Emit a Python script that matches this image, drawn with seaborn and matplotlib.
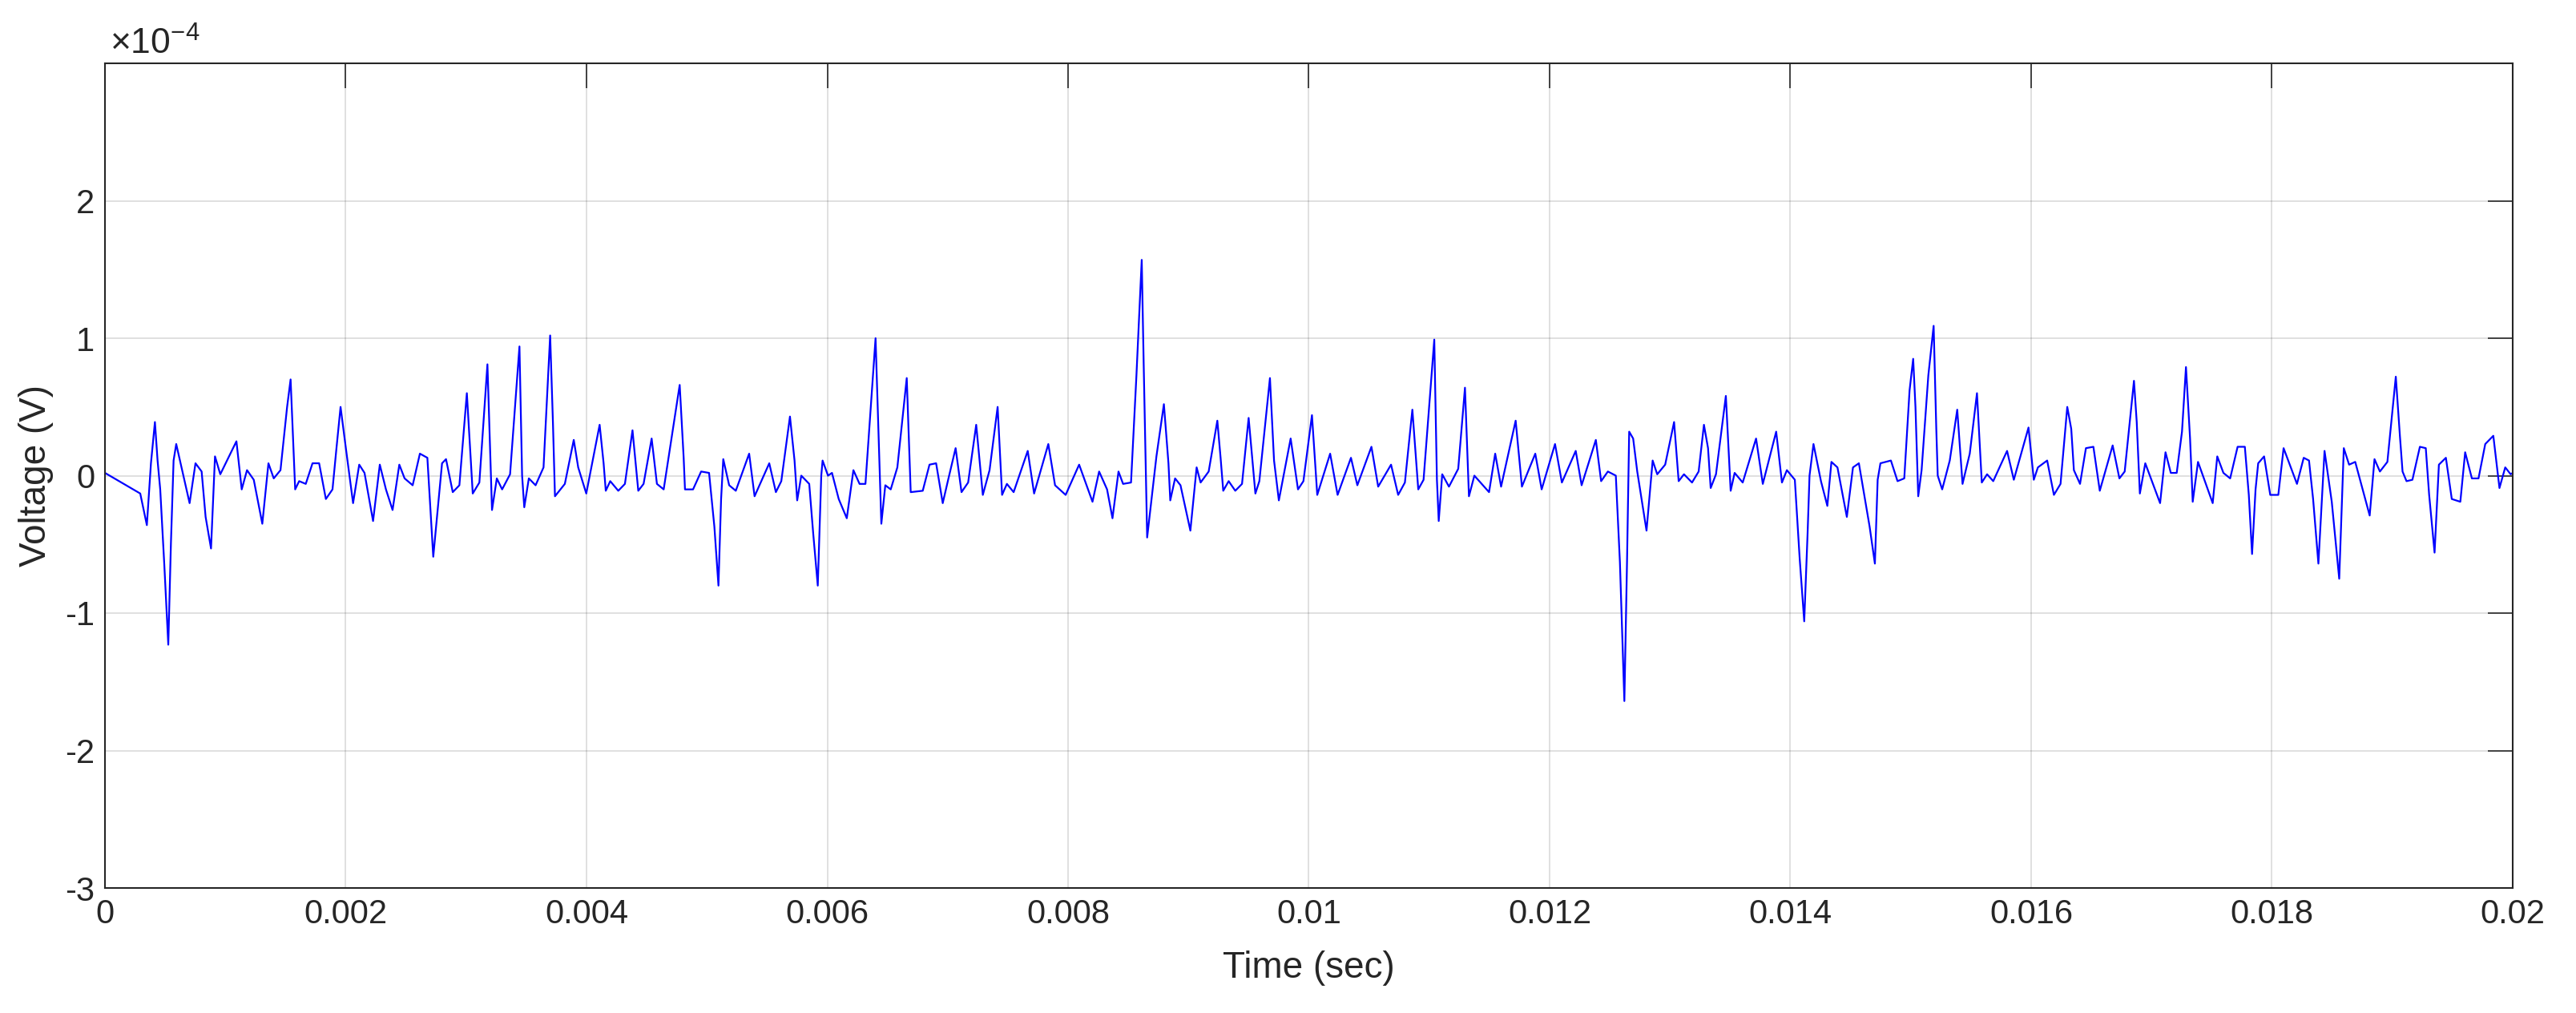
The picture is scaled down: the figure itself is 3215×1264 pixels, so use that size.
import numpy as np
import pandas as pd
import matplotlib
matplotlib.use("Agg")
import matplotlib.pyplot as plt
import seaborn as sns

# time in ms, voltage in units of 1e-4 V
time_ms = [
    0.000, 0.293, 0.348, 0.382, 0.415, 0.437, 0.459, 0.493, 0.526, 0.548,
    0.570, 0.592, 0.703, 0.752, 0.803, 0.836, 0.881, 0.914, 0.958, 1.092,
    1.136, 1.180, 1.236, 1.307, 1.358, 1.402, 1.458, 1.513, 1.542, 1.580,
    1.613, 1.668, 1.724, 1.779, 1.835, 1.890, 1.923, 1.957, 2.001, 2.061,
    2.112, 2.156, 2.227, 2.283, 2.334, 2.389, 2.445, 2.489, 2.556, 2.616,
    2.678, 2.727, 2.800, 2.833, 2.889, 2.944, 3.006, 3.055, 3.110, 3.177,
    3.215, 3.255, 3.299, 3.365, 3.443, 3.465, 3.483, 3.521, 3.577, 3.643,
    3.698, 3.721, 3.738, 3.820, 3.894, 3.931, 3.998, 4.109, 4.142, 4.160,
    4.197, 4.264, 4.319, 4.382, 4.430, 4.474, 4.541, 4.585, 4.641, 4.774,
    4.807, 4.818, 4.885, 4.952, 5.018, 5.062, 5.096, 5.118, 5.136, 5.185,
    5.240, 5.351, 5.396, 5.518, 5.573, 5.618, 5.690, 5.728, 5.750, 5.784,
    5.850, 5.883, 5.921, 5.950, 5.961, 6.006, 6.039, 6.095, 6.162, 6.217,
    6.268, 6.317, 6.401, 6.449, 6.482, 6.527, 6.582, 6.660, 6.693, 6.793,
    6.849, 6.904, 6.959, 7.004, 7.066, 7.115, 7.170, 7.237, 7.292, 7.348,
    7.415, 7.452, 7.492, 7.548, 7.665, 7.718, 7.836, 7.892, 7.980, 8.092,
    8.203, 8.258, 8.324, 8.369, 8.419, 8.457, 8.523, 8.568, 8.612, 8.628,
    8.657, 8.734, 8.796, 8.834, 8.849, 8.889, 8.934, 9.016, 9.068, 9.101,
    9.168, 9.240, 9.267, 9.289, 9.334, 9.389, 9.445, 9.500, 9.556, 9.589,
    9.677, 9.711, 9.751, 9.849, 9.910, 9.955, 10.026, 10.070, 10.177, 10.239,
    10.350, 10.403, 10.520, 10.576, 10.683, 10.742, 10.798, 10.860, 10.909, 10.953,
    11.042, 11.064, 11.079, 11.108, 11.164, 11.241, 11.297, 11.330, 11.375, 11.497,
    11.548, 11.597, 11.718, 11.770, 11.881, 11.934, 12.045, 12.102, 12.217, 12.266,
    12.384, 12.428, 12.484, 12.550, 12.584, 12.621, 12.643, 12.661, 12.694, 12.728,
    12.805, 12.856, 12.894, 12.960, 13.034, 13.072, 13.116, 13.183, 13.238, 13.282,
    13.316, 13.338, 13.382, 13.464, 13.487, 13.504, 13.537, 13.604, 13.715, 13.771,
    13.882, 13.930, 13.971, 14.037, 14.077, 14.115, 14.143, 14.159, 14.192, 14.254,
    14.307, 14.341, 14.391, 14.469, 14.520, 14.569, 14.658, 14.702, 14.725, 14.748,
    14.835, 14.890, 14.946, 14.990, 15.020, 15.039, 15.062, 15.090, 15.146, 15.190,
    15.212, 15.224, 15.261, 15.324, 15.386, 15.430, 15.490, 15.550, 15.590, 15.634,
    15.685, 15.800, 15.856, 15.978, 16.022, 16.056, 16.133, 16.189, 16.244, 16.300,
    16.333, 16.355, 16.406, 16.455, 16.517, 16.570, 16.677, 16.733, 16.777, 16.854,
    16.877, 16.903, 16.948, 17.071, 17.116, 17.160, 17.209, 17.253, 17.286, 17.320,
    17.342, 17.386, 17.508, 17.546, 17.597, 17.653, 17.715, 17.775, 17.808, 17.835,
    17.864, 17.886, 17.935, 17.986, 18.053, 18.097, 18.208, 18.264, 18.308, 18.342,
    18.386, 18.437, 18.497, 18.559, 18.597, 18.641, 18.692, 18.812, 18.852, 18.897,
    18.959, 19.029, 19.063, 19.085, 19.118, 19.167, 19.229, 19.278, 19.306, 19.351,
    19.387, 19.445, 19.494, 19.565, 19.605, 19.661, 19.716, 19.772, 19.839, 19.890,
    19.938, 19.983, 20.000,
]
volt_e4 = [
    0.02, -0.13, -0.36, 0.09, 0.39, 0.11, -0.10, -0.65, -1.23, -0.49,
    0.11, 0.23, -0.20, 0.09, 0.03, -0.30, -0.53, 0.14, 0.01, 0.25,
    -0.10, 0.04, -0.03, -0.35, 0.09, -0.02, 0.04, 0.50, 0.70, -0.10,
    -0.04, -0.06, 0.09, 0.09, -0.17, -0.10, 0.20, 0.50, 0.20, -0.20,
    0.08, 0.02, -0.33, 0.08, -0.10, -0.25, 0.08, -0.02, -0.07, 0.16,
    0.13, -0.59, 0.09, 0.12, -0.12, -0.07, 0.60, -0.13, -0.05, 0.81,
    -0.25, -0.02, -0.10, 0.01, 0.94, 0.00, -0.23, -0.02, -0.07, 0.06,
    1.02, 0.39, -0.15, -0.06, 0.26, 0.06, -0.13, 0.37, 0.09, -0.11,
    -0.04, -0.11, -0.06, 0.33, -0.11, -0.06, 0.27, -0.06, -0.10, 0.66,
    0.13, -0.10, -0.10, 0.03, 0.02, -0.37, -0.80, -0.17, 0.12, -0.07,
    -0.11, 0.16, -0.15, 0.09, -0.12, -0.04, 0.43, 0.11, -0.18, 0.00,
    -0.06, -0.42, -0.80, 0.00, 0.11, 0.00, 0.02, -0.17, -0.31, 0.04,
    -0.06, -0.06, 1.00, -0.35, -0.07, -0.10, 0.06, 0.71, -0.12, -0.11,
    0.08, 0.09, -0.20, -0.03, 0.20, -0.12, -0.05, 0.37, -0.14, 0.04,
    0.50, -0.14, -0.06, -0.12, 0.18, -0.13, 0.23, -0.07, -0.14, 0.08,
    -0.19, 0.03, -0.10, -0.31, 0.03, -0.06, -0.05, 0.73, 1.57, 0.82,
    -0.45, 0.14, 0.52, 0.09, -0.18, -0.02, -0.07, -0.40, 0.06, -0.05,
    0.03, 0.40, 0.13, -0.11, -0.04, -0.11, -0.06, 0.42, -0.13, -0.04,
    0.71, 0.11, -0.18, 0.27, -0.10, -0.04, 0.44, -0.14, 0.16, -0.14,
    0.13, -0.07, 0.21, -0.08, 0.08, -0.14, -0.05, 0.48, -0.10, -0.03,
    0.99, -0.03, -0.33, 0.01, -0.08, 0.05, 0.64, -0.15, 0.00, -0.12,
    0.16, -0.08, 0.40, -0.08, 0.16, -0.10, 0.23, -0.05, 0.18, -0.07,
    0.26, -0.04, 0.03, 0.00, -0.63, -1.64, -0.63, 0.32, 0.27, 0.03,
    -0.40, 0.11, 0.01, 0.08, 0.39, -0.04, 0.01, -0.05, 0.03, 0.37,
    0.20, -0.09, 0.01, 0.58, 0.18, -0.11, 0.02, -0.05, 0.27, -0.06,
    0.32, -0.05, 0.04, -0.03, -0.60, -1.06, -0.42, 0.00, 0.23, -0.04,
    -0.22, 0.10, 0.06, -0.30, 0.06, 0.09, -0.37, -0.64, -0.03, 0.09,
    0.11, -0.04, -0.02, 0.62, 0.85, 0.50, -0.15, 0.04, 0.73, 1.09,
    0.34, 0.00, -0.10, 0.11, 0.48, -0.06, 0.16, 0.60, -0.05, 0.01,
    -0.04, 0.18, -0.03, 0.35, -0.03, 0.06, 0.11, -0.14, -0.06, 0.50,
    0.34, 0.04, -0.06, 0.20, 0.21, -0.11, 0.22, -0.02, 0.03, 0.69,
    0.39, -0.13, 0.09, -0.20, 0.17, 0.02, 0.02, 0.32, 0.79, 0.27,
    -0.19, 0.10, -0.20, 0.14, 0.02, -0.02, 0.21, 0.21, -0.14, -0.57,
    -0.10, 0.09, 0.14, -0.14, -0.14, 0.20, -0.06, 0.13, 0.11, -0.17,
    -0.64, 0.18, -0.19, -0.75, 0.20, 0.08, 0.10, -0.29, 0.12, 0.03,
    0.10, 0.72, 0.29, 0.03, -0.04, -0.03, 0.21, 0.20, -0.14, -0.56,
    0.08, 0.13, -0.17, -0.19, 0.17, -0.02, -0.02, 0.23, 0.29, -0.09,
    0.06, 0.01, 0.02,
]

x_ticks = [0, 0.002, 0.004, 0.006, 0.008, 0.01, 0.012, 0.014, 0.016, 0.018, 0.02]
x_tick_labels = ["0", "0.002", "0.004", "0.006", "0.008", "0.01",
                 "0.012", "0.014", "0.016", "0.018", "0.02"]
y_ticks = [-3, -2, -1, 0, 1, 2]
y_tick_labels = ["-3", "-2", "-1", "0", "1", "2"]

sns.set_style("white")
plt.rcParams["font.family"] = ["Liberation Sans", "DejaVu Sans"]
plt.rcParams["mathtext.fontset"] = "custom"
plt.rcParams["mathtext.rm"] = "Liberation Sans"
plt.rcParams["mathtext.it"] = "Liberation Sans"

df = pd.DataFrame({
    "time": np.array(time_ms) * 1e-3,
    "voltage": np.array(volt_e4) * 1e-4,
})

W, H = 3216, 1264
fig = plt.figure(figsize=(W / 100, H / 100), dpi=100)
ax = fig.add_axes([131 / W, 1 - 1108 / H, (3136 - 131) / W, (1108 - 79) / H])

sns.lineplot(data=df, x="time", y="voltage", ax=ax, color="#0000ff",
             linewidth=1.6, estimator=None, sort=False)

ax.set_xlim(0, 0.02)
ax.set_ylim(-3e-4, 3e-4)
ax.set_xticks(x_ticks)
ax.set_xticklabels(x_tick_labels)
ax.set_yticks([v * 1e-4 for v in y_ticks])
ax.set_yticklabels(y_tick_labels)

ax.grid(True, color="#262626", alpha=0.17, linewidth=1.2)
ax.tick_params(direction="in", length=22, width=1.2, top=True, right=True,
               labelsize=30, colors="#262626", pad=9)
for sp in ax.spines.values():
    sp.set_color("#262626")
    sp.set_linewidth(1.5)

ax.set_xlabel("Time (sec)", fontsize=33, color="#262626", labelpad=18)
ax.set_ylabel("Voltage (V)", fontsize=33, color="#262626", labelpad=10)
ax.text(0.002, 1.002, r"$\times\mathregular{10^{-4}}$", transform=ax.transAxes,
        fontsize=32, color="#262626", ha="left", va="bottom")

fig.savefig("out.png", dpi=100)
